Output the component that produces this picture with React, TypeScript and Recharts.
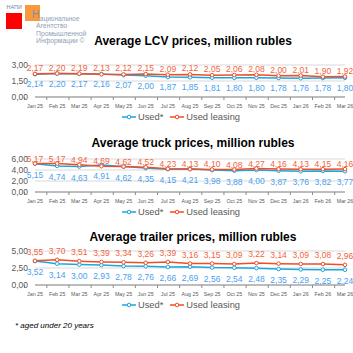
import React from 'react';
import {LineChart, Line, XAxis, YAxis, CartesianGrid, Legend, LabelList} from 'recharts';

const months = ['Jan 25', 'Feb 25', 'Mar 25', 'Apr 25', 'May 25', 'Jun 25', 'Jul 25', 'Aug 25',
    'Sep 25', 'Oct 25', 'Nov 25', 'Dec 25', 'Jan 26', 'Feb 26', 'Mar 26'];

const lcvUsed = [2.14, 2.20, 2.17, 2.16, 2.07, 2.00, 1.87, 1.85, 1.81, 1.80, 1.80, 1.78, 1.76, 1.78, 1.80];
const lcvLeasing = [2.17, 2.20, 2.19, 2.13, 2.12, 2.15, 2.09, 2.12, 2.05, 2.06, 2.08, 2.00, 2.01, 1.90, 1.92];

const truckUsed = [5.15, 4.74, 4.63, 4.91, 4.62, 4.35, 4.15, 4.21, 3.98, 3.88, 4.00, 3.87, 3.76, 3.82, 3.77];
const truckLeasing = [5.17, 5.17, 4.94, 4.69, 4.62, 4.52, 4.23, 4.13, 4.10, 4.08, 4.27, 4.16, 4.13, 4.15, 4.16];

const trailerUsed = [3.52, 3.14, 3.00, 2.93, 2.78, 2.76, 2.66, 2.69, 2.56, 2.54, 2.48, 2.35, 2.29, 2.25, 2.24];
const trailerLeasing = [3.55, 3.70, 3.51, 3.39, 3.34, 3.26, 3.39, 3.16, 3.15, 3.09, 3.22, 3.14, 3.09, 3.08, 2.96];

const lcvTicks = [0, 1.5, 3];
const truckTicks = [0, 2, 4, 6];
const trailerTicks = [0, 2.5, 5];

const USED = '#1ba6e0';
const LEASING = '#ef4e26';
const USED_LBL = '#4a9ff0';
const LEASING_LBL = '#f2643c';

const W = 353;
const Y_W = 35;
const M_RIGHT = 8;
const HALF = (W - Y_W - M_RIGHT) / months.length / 2;

const fmt = (v: number) => v.toFixed(2).replace('.', ',');

const XTick = (props: any) => {
    const {x, y, payload, index, visibleTicksCount} = props;
    return (
        <g>
            <line x1={x - HALF} x2={x - HALF} y1={y} y2={y + 3} stroke="#8c8c8c" />
            {index === visibleTicksCount - 1 &&
                <line x1={x + HALF} x2={x + HALF} y1={y} y2={y + 3} stroke="#8c8c8c" />}
            <text x={x} y={y + 11} textAnchor="middle" fontSize={5.3} fill="#595959"
                  fontFamily="Liberation Sans">{payload.value}</text>
        </g>
    );
};

const LegendBox = () => (
    <div style={{display: 'flex', justifyContent: 'center', paddingLeft: 24, height: 12,
        lineHeight: '12px', fontSize: 9.3, color: '#595959', fontFamily: 'Liberation Sans'}}>
        {[['Used*', USED], ['Used leasing', LEASING]].map(([name, c]) => (
            <span key={name} style={{display: 'flex', alignItems: 'center', marginRight: 7}}>
                <svg width={14} height={8} style={{marginRight: 2}}>
                    <line x1={0} x2={14} y1={4} y2={4} stroke={c} strokeWidth={1.5} />
                    <circle cx={7} cy={4} r={1.8} fill="#fff" stroke={c} strokeWidth={1} />
                </svg>
                {name}
            </span>
        ))}
    </div>
);

const Panel = ({top, plotH, used, leasing, ticks, offUsed, offLeasing}) => {
    const data = months.map((m, i) => ({month: m, used: used[i], leasing: leasing[i]}));
    const max = ticks[ticks.length - 1];
    return (
        <div style={{position: 'absolute', left: 0, top}}>
            <LineChart width={W} height={15 + plotH + 14 + 12 + 2} data={data}
                       margin={{top: 15, right: M_RIGHT, left: 0, bottom: 2}}>
                <CartesianGrid vertical={false} stroke="#d9d9d9" />
                <XAxis dataKey="month" height={14} tickLine={false} tickSize={0} tickMargin={0}
                       axisLine={{stroke: '#8c8c8c'}} tick={<XTick />} interval={0} />
                <YAxis width={Y_W} domain={[0, max]} ticks={ticks} tickFormatter={fmt} interval={0}
                       tickLine={false} axisLine={false} tickSize={0} tickMargin={7}
                       tick={{fontSize: 8.5, fill: '#595959', fontFamily: 'Liberation Sans'}} />
                <Legend verticalAlign="bottom" height={12} content={<LegendBox />} />
                <Line dataKey="used" name="Used*" stroke={USED} strokeWidth={1.5}
                      dot={{r: 1.8, fill: '#fff', stroke: USED, strokeWidth: 1}} isAnimationActive={false}>
                    <LabelList dataKey="used" position="bottom" offset={offUsed} formatter={fmt}
                               fill={USED_LBL} fontSize={8.5} fontFamily="Liberation Sans" />
                </Line>
                <Line dataKey="leasing" name="Used leasing" stroke={LEASING} strokeWidth={1.5}
                      dot={{r: 1.8, fill: '#fff', stroke: LEASING, strokeWidth: 1}} isAnimationActive={false}>
                    <LabelList dataKey="leasing" position="top" offset={offLeasing} formatter={fmt}
                               fill={LEASING_LBL} fontSize={8.5} fontFamily="Liberation Sans" />
                </Line>
            </LineChart>
        </div>
    );
};

const Title = ({y, children}) => (
    <div style={{position: 'absolute', left: 43, width: 300, top: y - 7, lineHeight: '14px',
        textAlign: 'center', fontSize: 12, fontWeight: 'bold', fontFamily: 'Liberation Sans', color: '#000'}}>
        {children}
    </div>
);

const logoText = {position: 'absolute', left: 36, fontSize: 6.8, lineHeight: '7px',
    fontFamily: 'Liberation Sans', color: '#8fa0b6'} as const;

export default function App() {
    return (
        <div style={{position: 'fixed', left: 0, top: 0, width: W, height: W, background: '#fff', overflow: 'hidden'}}>
            <div style={{position: 'absolute', left: 6, top: 12.5, width: 16, height: 16.5, background: '#ff0000'}} />
            <div style={{position: 'absolute', left: 24.5, top: 5, width: 15.5, height: 15.5, background: '#f79a3e'}} />
            <div style={{position: 'absolute', left: 6.5, top: 4, fontSize: 5.5, lineHeight: '6px',
                fontFamily: 'Liberation Sans', color: '#6f86a6'}}>НАПИ</div>
            <div style={{...logoText, left: 32, top: 9, fontSize: 10, lineHeight: '12px', color: '#7f8ea2'}}>Н</div>
            <div style={{...logoText, left: 39.8, top: 14.5, fontSize: 6.5}}>ациональное</div>
            <div style={{...logoText, top: 22}}>Агентство</div>
            <div style={{...logoText, top: 29.5}}>Промышленной</div>
            <div style={{...logoText, top: 37}}>Информации ©</div>

            <Panel top={50} plotH={32} used={lcvUsed} leasing={lcvLeasing} ticks={lcvTicks}
                   offUsed={7} offLeasing={3} />
            <Panel top={144} plotH={33} used={truckUsed} leasing={truckLeasing} ticks={truckTicks}
                   offUsed={8} offLeasing={2} />
            <Panel top={236} plotH={34} used={trailerUsed} leasing={trailerLeasing} ticks={trailerTicks}
                   offUsed={8} offLeasing={6} />

            <Title y={41}>Average LCV prices, million rubles</Title>
            <Title y={143}>Average truck prices, million rubles</Title>
            <Title y={237}>Average trailer prices, million rubles</Title>

            <div style={{position: 'absolute', left: 15, top: 321, lineHeight: '10px', fontSize: 8,
                fontStyle: 'italic', fontFamily: 'Liberation Sans', color: '#000'}}>* aged under 20 years</div>
        </div>
    );
}
